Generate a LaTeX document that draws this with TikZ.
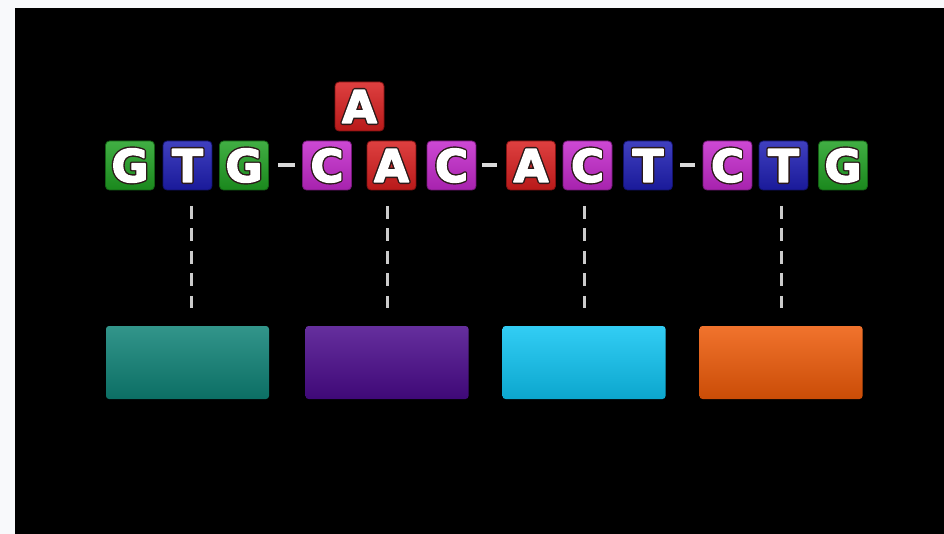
\documentclass[tikz,border=0pt]{standalone}
\usepackage{fontspec}
\newfontface\lettfont{DejaVu Sans Bold}
\definecolor{bgwhite}{HTML}{F8F9FB}
\definecolor{tgreen}{HTML}{1FA022}
\definecolor{tblue}{HTML}{1E1EB4}
\definecolor{tred}{HTML}{D81E1E}
\definecolor{tmag}{HTML}{C428CC}
\definecolor{bteal}{HTML}{0E8276}
\definecolor{bpurple}{HTML}{4A0A8C}
\definecolor{bcyan}{HTML}{0EC4F2}
\definecolor{borange}{HTML}{EE5A08}
\definecolor{dashgray}{HTML}{CCCCCC}
\newcommand\outltext[1]{%
  \makebox[0pt][l]{\special{pdf:literal direct 2 Tr 4.2 w 1 j 0.17 0.1 0.1 RG 0.17 0.1 0.1 rg}#1\special{pdf:literal direct 0 Tr}}%
  \special{pdf:literal direct 2 Tr 1.4 w 1 j 1 G 1 g}#1\special{pdf:literal direct 0 Tr}}
\tikzset{
  tile/.style={minimum width=49pt, minimum height=49pt, inner sep=0pt,
    rounded corners=4pt, draw=#1!60!black, line width=0.8pt,
    top color=#1!85!white, middle color=#1, bottom color=#1!85!black},
  lett/.style={inner sep=0pt, text=white, font=\fontsize{45}{45}\lettfont},
  rbox/.style={minimum width=163pt, minimum height=73pt, inner sep=0pt,
    rounded corners=3pt, top color=#1!85!white, middle color=#1, bottom color=#1!85!black},
  dashline/.style={draw=dashgray, line width=3pt, dash pattern=on 13pt off 9.5pt},
  groupdash/.style={draw=white!85!black, line width=4pt}
}
\newcommand\mytile[5]{%
  \node[tile=#4] (#1) at (#2,#3) {};
  \node[lett] (#1l) at (#2,#3) {\outltext{#5}};
}
\begin{document}
\begin{tikzpicture}[x=1pt,y=-1pt]
\fill[bgwhite] (0,0) rectangle (944,534);
\fill[black] (15,8) rectangle (944,534);
\useasboundingbox (0,0) rectangle (944,534);
% top inserted A
\mytile{ta}{359.5}{106.5}{tred}{A}
% row
\mytile{t1}{130}{165.5}{tgreen}{G}
\mytile{t2}{187.5}{165.5}{tblue}{T}
\mytile{t3}{244}{165.5}{tgreen}{G}
\mytile{t4}{327}{165.5}{tmag}{C}
\mytile{t5}{391.5}{165.5}{tred}{A}
\mytile{t6}{451.5}{165.5}{tmag}{C}
\mytile{t7}{531}{165.5}{tred}{A}
\mytile{t8}{587.5}{165.5}{tmag}{C}
\mytile{t9}{648}{165.5}{tblue}{T}
\mytile{t10}{727.5}{165.5}{tmag}{C}
\mytile{t11}{783.5}{165.5}{tblue}{T}
\mytile{t12}{843}{165.5}{tgreen}{G}
% group dashes
\coordinate (g1a) at (278,165); \coordinate (g1b) at (295,165);
\coordinate (g2a) at (482,165); \coordinate (g2b) at (497,165);
\coordinate (g3a) at (680,165); \coordinate (g3b) at (695,165);
\draw[groupdash] (g1a) -- (g1b);
\draw[groupdash] (g2a) -- (g2b);
\draw[groupdash] (g3a) -- (g3b);
% boxes
\node[rbox=bteal] (b1) at (187.5,362.5) {};
\node[rbox=bpurple] (b2) at (387,362.5) {};
\node[rbox=bcyan] (b3) at (584,362.5) {};
\node[rbox=borange] (b4) at (781,362.5) {};
% dashed links
\coordinate (d1s) at (191,206); \coordinate (d1e) at (191,308);
\coordinate (d2s) at (387,206); \coordinate (d2e) at (387,308);
\coordinate (d3s) at (584,206); \coordinate (d3e) at (584,308);
\coordinate (d4s) at (781,206); \coordinate (d4e) at (781,308);
\draw[dashline] (d1s) -- (d1e);
\draw[dashline] (d2s) -- (d2e);
\draw[dashline] (d3s) -- (d3e);
\draw[dashline] (d4s) -- (d4e);
\end{tikzpicture}
\end{document}
